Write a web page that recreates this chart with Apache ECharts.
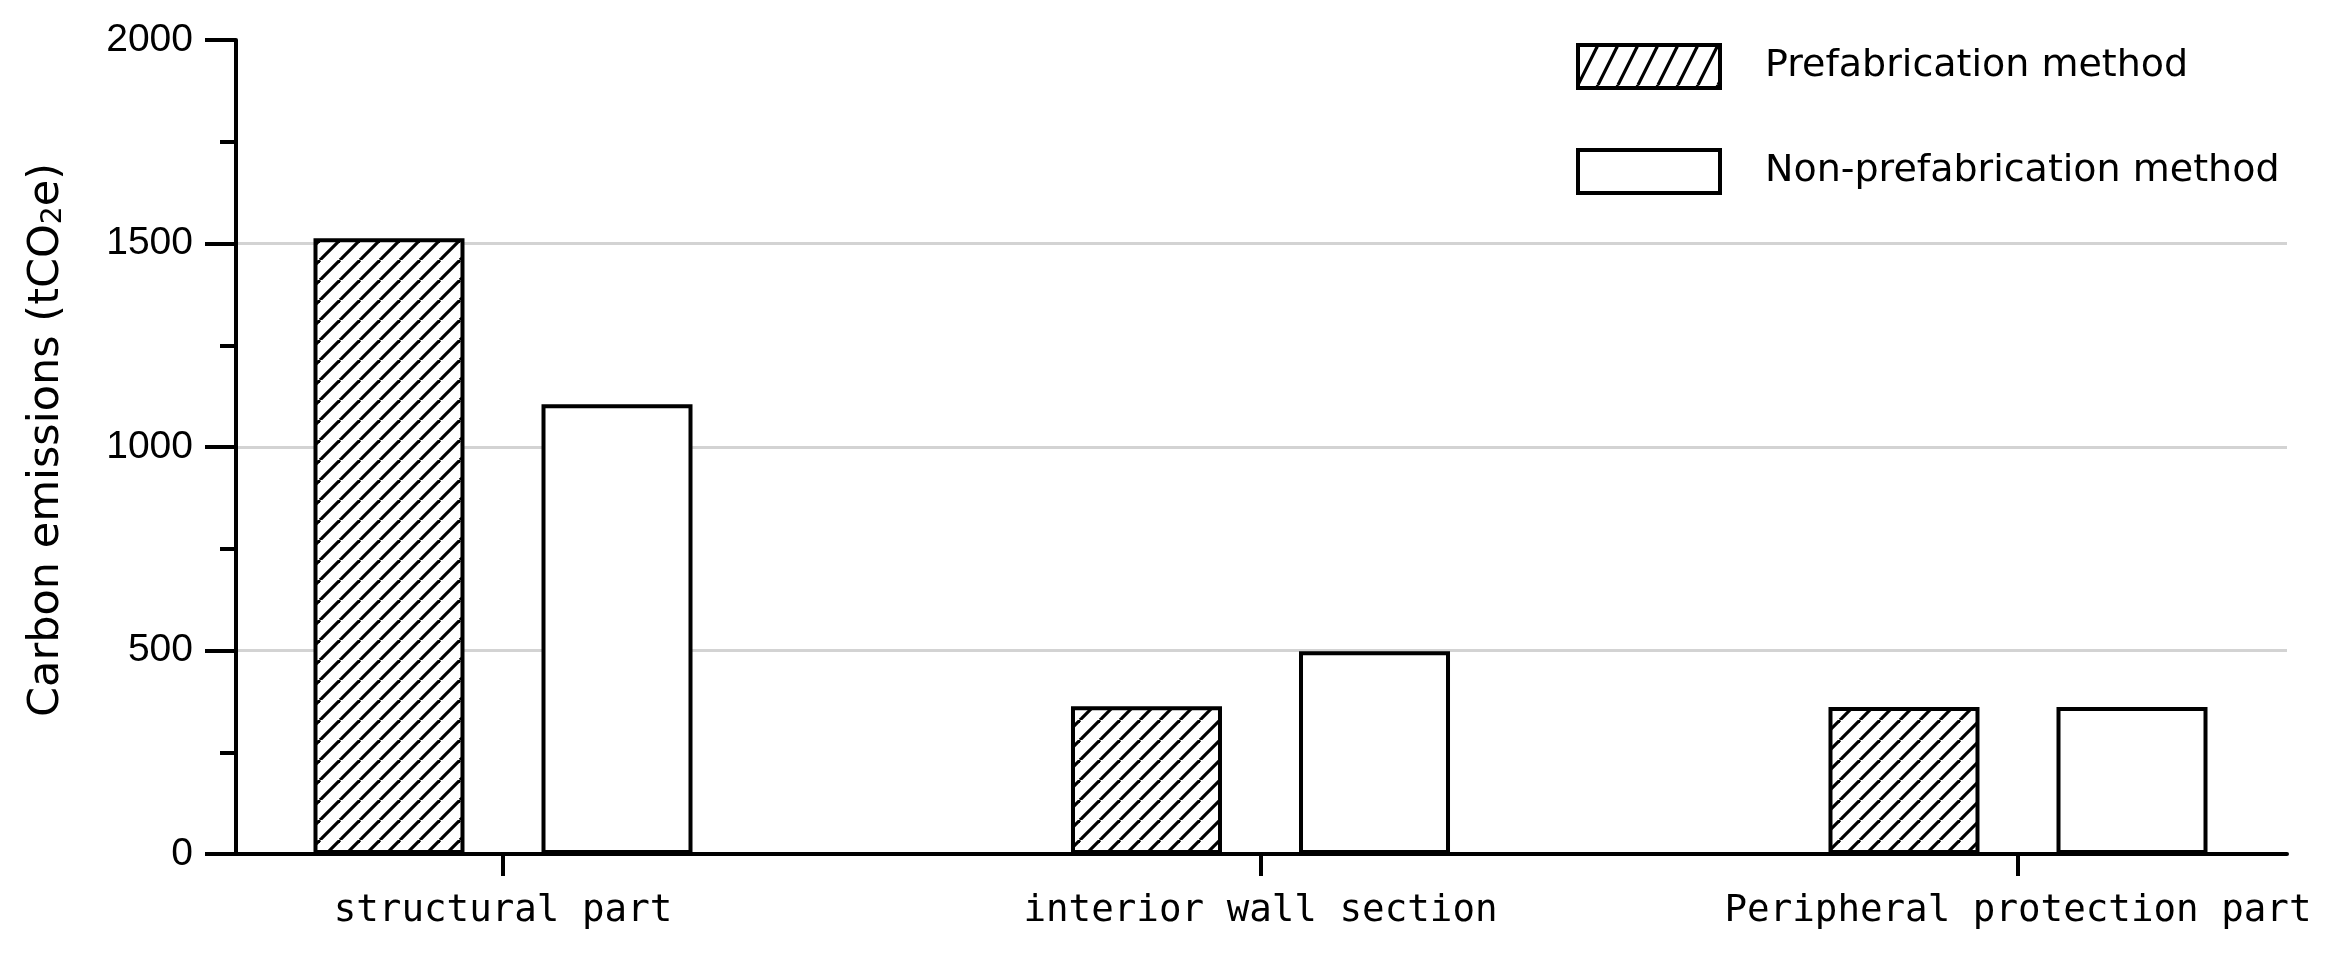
<!DOCTYPE html>
<html>
<head>
<meta charset="utf-8">
<script src="https://cdn.jsdelivr.net/npm/echarts@6/dist/echarts.min.js"></script>
<style>
  html, body { margin: 0; padding: 0; background: #fff; }
  #chart { width: 2340px; height: 967px; }
</style>
</head>
<body>
<div id="chart"></div>
<script>
// categories and values
const categories = ['structural part', 'interior wall section', 'Peripheral protection part'];
const prefabValues = [1513, 363, 361];
const nonPrefabValues = [1105, 498, 361];
const seriesNames = ['Prefabrication method', 'Non-prefabrication method'];

// hatch pattern: "/" lines
function hatch(w, h, lw) {
  const c = document.createElement('canvas');
  c.width = w; c.height = h;
  const ctx = c.getContext('2d');
  ctx.fillStyle = '#fff';
  ctx.fillRect(0, 0, w, h);
  ctx.strokeStyle = '#000';
  ctx.lineWidth = lw;
  for (let k = -1; k <= 1; k++) {
    ctx.beginPath();
    ctx.moveTo(k * w, h);
    ctx.lineTo(k * w + w, 0);
    ctx.stroke();
  }
  return c;
}
const barHatch = { image: hatch(20, 20, 3.2), repeat: 'repeat' };
const legendHatch = { image: hatch(20, 40, 3.2), repeat: 'repeat' };

const chart = echarts.init(document.getElementById('chart'));
chart.setOption({
  animation: false,
  backgroundColor: '#fff',
  legend: {
    left: 1576,
    top: 43,
    padding: 0,
    orient: 'vertical',
    icon: 'rect',
    itemWidth: 142,
    itemHeight: 43,
    itemGap: 58,
    selectedMode: false,
    textStyle: {
      fontFamily: 'DejaVu Sans',
      fontSize: 38,
      color: '#000',
      padding: [6, 0, 0, 40]
    },
    data: [
      { name: seriesNames[0], itemStyle: { color: legendHatch, borderColor: '#000', borderWidth: 4 } },
      { name: seriesNames[1], itemStyle: { color: '#fff', borderColor: '#000', borderWidth: 4 } }
    ]
  },
  grid: [
    // frame: y axis, grid lines, x axis line
    { left: 236, right: 53, top: 40, bottom: 113, outerBoundsMode: 'none' },
    // bars + category ticks (bands run past the frame on both sides)
    { left: 124.25, width: 2272.5, top: 40, bottom: 113, outerBoundsMode: 'none' }
  ],
  xAxis: [
    {
      gridIndex: 0,
      type: 'value',
      min: 0,
      max: 1,
      axisLine: { show: true, lineStyle: { color: '#000', width: 4 } },
      axisTick: { show: false },
      axisLabel: { show: false },
      splitLine: { show: false }
    },
    {
      gridIndex: 1,
      type: 'category',
      data: categories,
      axisLine: { show: false },
      axisTick: { show: true, alignWithLabel: true, length: 22, lineStyle: { color: '#000', width: 4 } },
      axisLabel: {
        interval: 0,
        margin: 38,
        fontFamily: 'DejaVu Sans Mono',
        fontSize: 37.5,
        color: '#000'
      },
      splitLine: { show: false }
    }
  ],
  yAxis: [
    {
      gridIndex: 0,
      type: 'value',
      min: 0,
      max: 2000,
      interval: 500,
      name: 'Carbon emissions (tCO{sub|2}e)',
      nameLocation: 'middle',
      nameGap: 168,
      nameTextStyle: {
        fontFamily: 'DejaVu Sans',
        fontSize: 43,
        color: '#000',
        lineHeight: 43,
        padding: [0, 0, 0, 14],
        rich: {
          sub: { fontFamily: 'DejaVu Sans', fontSize: 28, lineHeight: 43, verticalAlign: 'bottom', color: '#000' }
        }
      },
      axisLine: { show: true, lineStyle: { color: '#000', width: 4 } },
      axisTick: { show: true, length: 31, lineStyle: { color: '#000', width: 4 } },
      minorTick: { show: true, splitNumber: 2, length: 16, lineStyle: { color: '#000', width: 4 } },
      axisLabel: {
        margin: 43,
        fontFamily: 'Liberation Sans',
        fontSize: 39,
        color: '#000',
        formatter: function (v) { return String(v); }
      },
      splitLine: {
        show: true,
        showMinLine: false,
        showMaxLine: false,
        lineStyle: { color: '#d3d3d3', width: 3 }
      }
    },
    {
      gridIndex: 1,
      type: 'value',
      min: 0,
      max: 2000,
      show: false,
      splitLine: { show: false }
    }
  ],
  series: [
    {
      name: seriesNames[0],
      type: 'bar',
      xAxisIndex: 1,
      yAxisIndex: 1,
      barWidth: 151,
      barGap: '51%',
      data: prefabValues,
      itemStyle: { color: barHatch, borderColor: '#000', borderWidth: 4 }
    },
    {
      name: seriesNames[1],
      type: 'bar',
      xAxisIndex: 1,
      yAxisIndex: 1,
      barWidth: 151,
      data: nonPrefabValues,
      itemStyle: { color: '#fff', borderColor: '#000', borderWidth: 4 }
    }
  ]
});
</script>
</body>
</html>
